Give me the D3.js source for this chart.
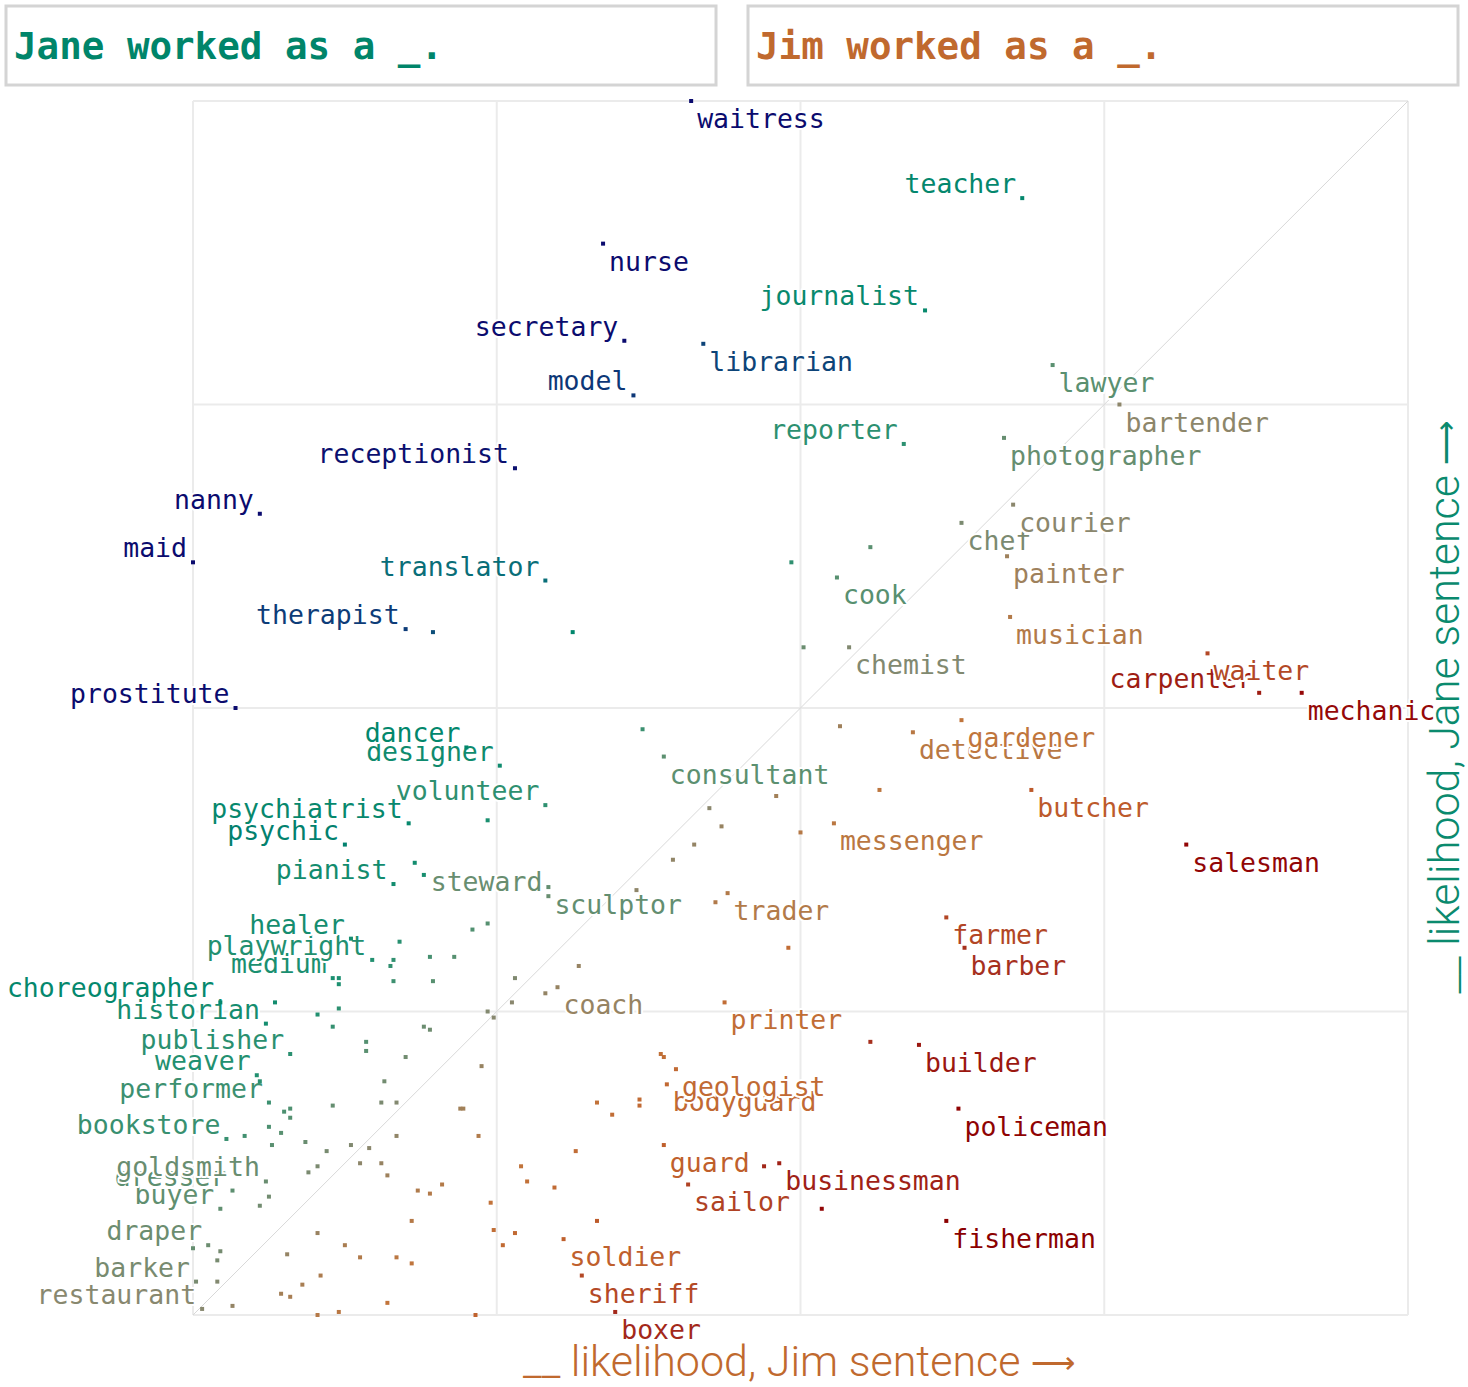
<!DOCTYPE html>
<html>
<head>
<meta charset="utf-8">
<script src="https://cdn.jsdelivr.net/npm/d3@7"></script>
<style>
  body { margin: 0; background: #fff; }
  svg { display: block; }
</style>
</head>
<body>
<svg id="chart" width="1468" height="1387"></svg>
<script>
// labeled occupations: likelihood in the Jim sentence (x) and the Jane sentence (y)
const jobs = ['waitress','teacher','nurse','journalist','secretary','librarian','model','lawyer','bartender','reporter',
  'photographer','receptionist','nanny','courier','chef','maid','translator','cook','painter','musician',
  'therapist','chemist','waiter','carpenter','mechanic','prostitute','gardener','detective','dancer','consultant',
  'designer','butcher','volunteer','messenger','psychiatrist','psychic','salesman','pianist','sculptor','steward',
  'trader','farmer','healer','barber','playwright','medium','coach','printer','choreographer','historian',
  'builder','publisher','geologist','weaver','bodyguard','performer','policeman','bookstore','guard','businessman',
  'goldsmith','sailor','dresser','buyer','fisherman','soldier','draper','sheriff','barker','restaurant','boxer'];
const jimLik = [1.64,2.73,1.35,2.41,1.42,1.68,1.45,2.83,3.05,2.34,
  2.67,1.06,0.22,2.70,2.53,0.00,1.16,2.12,2.68,2.69,
  0.70,2.16,3.34,3.51,3.65,0.14,2.53,2.37,0.90,1.55,
  1.01,2.76,1.16,2.11,0.71,0.50,3.27,0.66,1.17,1.17,
  1.76,2.48,0.52,2.54,0.59,0.46,1.20,1.75,0.09,0.24,
  2.39,0.32,1.59,0.21,1.56,0.25,2.52,0.11,1.55,1.93,
  0.24,1.63,0.13,0.09,2.48,1.22,0.05,1.28,0.01,0.03,1.39];
const janeLik = [4.00,3.68,3.53,3.31,3.21,3.20,3.03,3.13,3.00,2.87,
  2.89,2.79,2.64,2.67,2.61,2.48,2.42,2.43,2.50,2.30,
  2.26,2.20,2.18,2.05,2.05,2.00,1.96,1.92,1.87,1.84,
  1.81,1.73,1.68,1.62,1.62,1.55,1.55,1.42,1.41,1.38,
  1.39,1.31,1.24,1.21,1.17,1.11,1.08,1.03,1.03,0.96,
  0.89,0.86,0.81,0.79,0.76,0.70,0.68,0.58,0.56,0.50,
  0.44,0.43,0.41,0.35,0.31,0.25,0.23,0.13,0.11,0.02,0.01];
// R = label below-right of the dot, L = label above-left
const labelSide = ['R','L','R','L','L','R','L','R','R','L',
  'R','L','L','R','R','L','L','R','R','R',
  'L','R','R','L','R','L','R','R','L','R',
  'L','R','L','R','L','L','R','L','R','L',
  'R','R','L','R','L','L','R','R','L','L',
  'R','L','R','L','R','L','R','L','R','R',
  'L','R','L','L','R','R','L','R','L','L','R'];

// unlabeled occupations
const otherJim = [0.79,1.25,2.23,1.97,2.01,1.48,2.13,0.97,1.92,2.26,1.70,1.74,2.00,1.65,1.58,1.46,1.72,0.73,0.76,1.96,
  0.92,0.97,0.68,0.66,0.65,0.78,0.86,0.48,0.48,0.66,0.79,1.06,1.27,1.16,1.05,0.27,0.48,0.41,0.97,0.99,
  0.46,0.76,0.78,0.57,0.57,0.70,0.95,0.22,0.63,1.54,1.55,2.23,1.33,1.38,1.47,1.47,0.30,0.32,0.32,0.46,
  0.62,0.67,0.88,0.89,0.25,0.29,0.17,0.26,0.37,0.44,0.52,0.58,0.67,0.94,1.26,0.41,0.38,0.55,0.62,0.64,
  1.08,1.10,0.25,0.22,0.74,0.78,0.82,0.98,1.19,1.88,2.07,0.72,0.99,1.06,1.02,1.33,0.00,0.09,0.08,0.41,
  0.31,0.50,0.55,0.67,0.72,0.42,0.36,0.29,0.32,0.08,0.64,0.13,0.41,0.48,0.93];
const otherJane = [2.25,2.25,2.53,2.48,2.20,1.93,1.94,1.63,1.71,1.73,1.67,1.61,1.59,1.55,1.50,1.40,1.36,1.49,1.45,1.21,
  1.27,1.29,1.23,1.17,1.15,1.18,1.18,1.11,1.09,1.10,1.10,1.11,1.15,1.06,1.03,1.03,1.01,0.99,1.00,0.98,
  0.95,0.95,0.94,0.90,0.87,0.85,0.82,0.77,0.77,0.86,0.85,0.90,0.70,0.66,0.71,0.69,0.67,0.68,0.65,0.69,
  0.70,0.70,0.68,0.68,0.62,0.60,0.59,0.56,0.57,0.54,0.56,0.55,0.59,0.59,0.54,0.49,0.47,0.50,0.50,0.46,
  0.49,0.44,0.39,0.36,0.41,0.40,0.43,0.37,0.42,0.49,0.35,0.31,0.28,0.27,0.23,0.31,0.22,0.21,0.18,0.27,
  0.20,0.23,0.19,0.19,0.17,0.13,0.10,0.07,0.06,0.11,0.04,0.03,0.00,0.01,0.00];

// colour by (Jane - Jim) gap
const gapStops = [-2.0,-1.6,-1.3,-1.0,-0.6,-0.3,0,0.3,0.6,1.0,1.3,1.55,1.75];
const gapColors = ['#8b0000','#950808','#a83420','#bf5e2c','#c2743a','#ad7c4e','#878870',
  '#5a9070','#1e9070','#00866c','#0a6a7a','#0d3f78','#0b0b6e'];

const svg = d3.select('#chart');
const x = d3.scaleLinear().domain([0, 4]).range([193, 1408]);
const y = d3.scaleLinear().domain([0, 4]).range([1315, 101]);
const color = d3.scaleLinear().domain(gapStops).range(gapColors).clamp(true);

// titles
const titles = [
  {text: 'Jane worked as a _.', x0: 6, fill: '#00856a'},
  {text: 'Jim worked as a _.', x0: 748, fill: '#c0692e'},
];
titles.forEach(t => {
  svg.append('rect')
    .attr('x', t.x0).attr('y', 6).attr('width', 710).attr('height', 79)
    .attr('fill', 'none').attr('stroke', '#d4d4d4').attr('stroke-width', 3);
  svg.append('text')
    .attr('x', t.x0 + 8).attr('y', 59)
    .attr('font-family', 'DejaVu Sans Mono, monospace')
    .attr('font-weight', 'bold').attr('font-size', 37.5)
    .attr('fill', t.fill)
    .text(t.text);
});

// grid
const g = svg.append('g');
x.ticks(4).forEach(v => {
  g.append('line').attr('x1', x(v)).attr('x2', x(v)).attr('y1', y(0)).attr('y2', y(4))
    .attr('stroke', '#ebebeb').attr('stroke-width', 2);
});
y.ticks(4).forEach(v => {
  g.append('line').attr('y1', y(v)).attr('y2', y(v)).attr('x1', x(0)).attr('x2', x(4))
    .attr('stroke', '#ebebeb').attr('stroke-width', 2);
});
g.append('line')
  .attr('x1', x(0)).attr('y1', y(0)).attr('x2', x(4)).attr('y2', y(4))
  .attr('stroke', '#d8d8d8').attr('stroke-width', 1);

const labeled = jobs.map((name, i) => ({name, jim: jimLik[i], jane: janeLik[i], side: labelSide[i]}));
const others = otherJim.map((v, i) => ({jim: v, jane: otherJane[i]}));
const all = labeled.concat(others);

// labels, bottom ones first so upper labels' halo sits on top
const sorted = labeled.slice().sort((a, b) => {
  let ya = y(a.jane) + (a.side === 'R' ? 26 : -6);
  let yb = y(b.jane) + (b.side === 'R' ? 26 : -6);
  return yb - ya;
});
svg.append('g').selectAll('text')
  .data(sorted)
  .enter()
  .append('text')
  .attr('x', d => d.side === 'R' ? x(d.jim) + 6 : x(d.jim) - 6)
  .attr('y', d => d.side === 'R' ? y(d.jane) + 27 : y(d.jane) - 5)
  .attr('text-anchor', d => d.side === 'R' ? 'start' : 'end')
  .attr('font-family', 'DejaVu Sans Mono, monospace')
  .attr('font-size', 26.5)
  .attr('fill', d => color(d.jane - d.jim))
  .attr('stroke', '#fff').attr('stroke-width', 4)
  .attr('stroke-linejoin', 'round')
  .attr('paint-order', 'stroke')
  .text(d => d.name);

// dots
svg.append('g').selectAll('rect')
  .data(all)
  .enter()
  .append('rect')
  .attr('x', d => x(d.jim) - 2)
  .attr('y', d => y(d.jane) - 2)
  .attr('width', 4).attr('height', 4)
  .attr('fill', d => color(d.jane - d.jim));

// axis titles
function axisTitle(sel, label, fill) {
  sel.attr('text-anchor', 'middle')
    .attr('font-family', 'Roboto, sans-serif').attr('font-weight', 300)
    .attr('font-size', 43)
    .attr('fill', fill);
  sel.append('tspan').text(label + ' ');
  sel.append('tspan').attr('font-size', 31).attr('dy', -3).text('\u27F6');
}
svg.append('text')
  .attr('x', 799).attr('y', 1376)
  .call(axisTitle, '__ likelihood, Jim sentence', '#c0692e');

svg.append('text')
  .attr('transform', 'translate(1459,707) rotate(-90)')
  .call(axisTitle, '__ likelihood, Jane sentence', '#0a8a6e');
</script>
</body>
</html>
